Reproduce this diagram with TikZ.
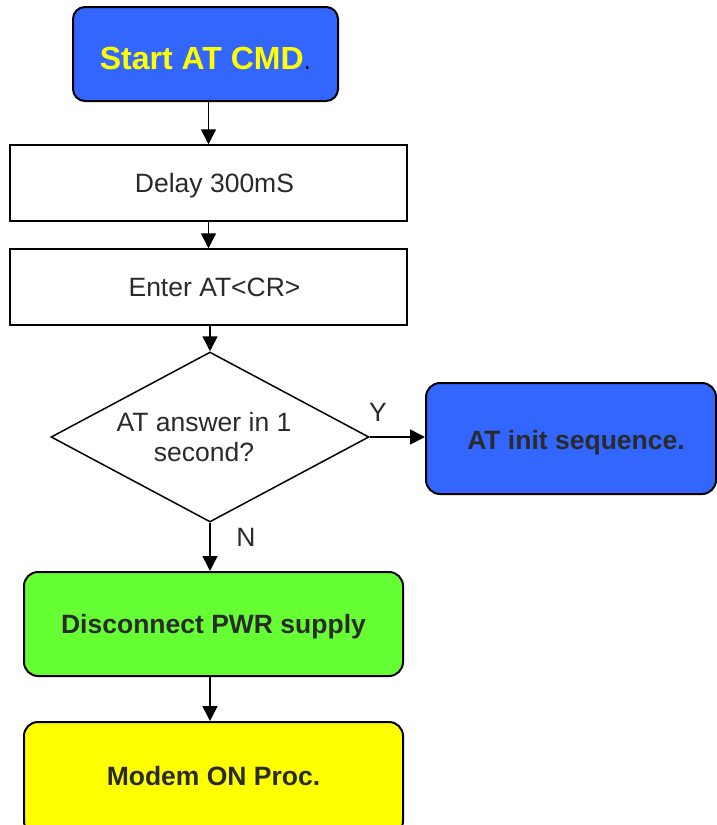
\documentclass[tikz,border=0pt]{standalone}
\usepackage{fontspec}
\setmainfont{Liberation Sans}
\usetikzlibrary{shapes.geometric,arrows.meta,calc}
\definecolor{procblue}{HTML}{3366FF}
\definecolor{procgreen}{HTML}{66FF33}
\definecolor{procyellow}{HTML}{FFFF00}
\definecolor{inkgray}{HTML}{2A2A2A}
\begin{document}
\begin{tikzpicture}[x=1pt,y=-1pt,
  roundbox/.style={draw=black, line width=2pt, rounded corners=14pt, inner sep=0pt,
    text height=19pt, text depth=0pt,
    text=inkgray, font=\bfseries\fontsize{26.5}{32}\selectfont},
  plainbox/.style={draw=black, line width=1.5pt, fill=white, inner sep=0pt,
    minimum width=397pt, minimum height=76pt, text height=19pt, text depth=0pt,
    text=inkgray, font=\fontsize{26.5}{32}\selectfont},
  decision/.style={diamond, draw=black, line width=1.5pt, inner sep=0pt,
    shape aspect=1.87, minimum width=318pt, minimum height=170pt, align=center,
    text=inkgray, font=\fontsize{26.5}{32}\selectfont},
  flow/.style={-{Triangle[length=15pt,width=15pt]}, line width=1.6pt},
  branch/.style={text=inkgray, font=\fontsize{26.5}{32}\selectfont, inner sep=0pt}]
\useasboundingbox (0,0) rectangle (717,825);
\clip (0,0) rectangle (717,825);

% process chain
\node[roundbox, rounded corners=12pt, fill=procblue, minimum width=265pt, minimum height=94pt,
  text height=23pt, font=\bfseries\fontsize{32}{36}\selectfont] (start) at (205.5,54)
  {\raisebox{-3.5pt}{\textcolor{procyellow}{Start AT CMD}{\mdseries\fontsize{26.5}{32}\selectfont\color{black}.}}};
\node[plainbox] (delay) at (208.5,183) {\hspace*{12pt}Delay 300mS};
\node[plainbox] (enter) at (208.5,287) {\hspace*{12pt}Enter AT<CR>};
\node[decision] (ask) at (210,437) {\raisebox{-2pt}{AT answer in 1}\hspace*{12pt}\\second?\hspace*{12pt}};
\node[roundbox, fill=procblue, minimum width=290pt, minimum height=111pt] (init) at (571,438.5)
  {\raisebox{-1.5pt}{\hspace*{10pt}AT init sequence.}};
\node[roundbox, fill=procgreen, minimum width=379pt, minimum height=104pt] (disc) at (213.5,624)
  {Disconnect PWR supply};
\node[roundbox, fill=procyellow, minimum width=379pt, minimum height=113pt] (modem) at (213.5,778.5)
  {\raisebox{2.5pt}{Modem ON Proc.}};

% connectors
\draw[flow] (start.south -| delay) -- (delay.north);
\draw[flow] (delay.south) -- (enter.north);
\draw[flow] (enter.south -| ask) -- (ask.north);
\draw[flow] (ask.east) -- (init.west |- ask.east);
\draw[flow] (ask.south) -- (ask.south |- disc.north);
\draw[flow] (disc.south -| ask) -- (ask.south |- modem.north);

% branch labels
\node[branch] (yes) at (378,412) {Y};
\node[branch] (no) at (246,537) {N};
\end{tikzpicture}
\end{document}
